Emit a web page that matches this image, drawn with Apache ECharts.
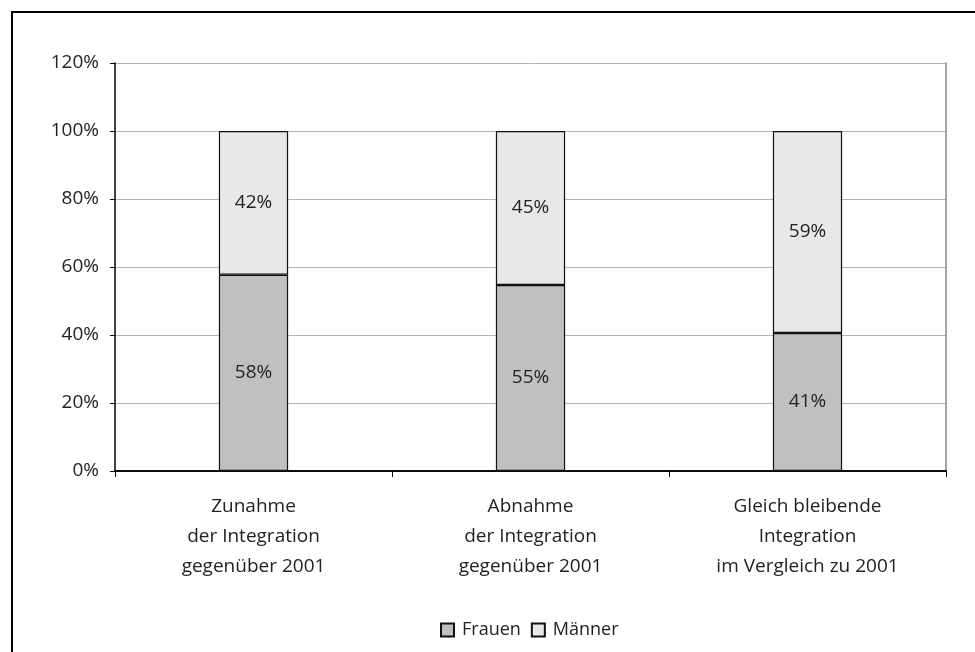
<!DOCTYPE html>
<html>
<head>
<meta charset="utf-8">
<script src="https://cdn.jsdelivr.net/npm/echarts@6/dist/echarts.min.js"></script>
<style>
  html, body { margin: 0; padding: 0; background: #fff; }
  #frame { position: absolute; left: 11px; top: 11px; width: 980px; height: 660px;
           border-left: 2px solid #000; border-top: 2px solid #000; }
  #chart { position: absolute; left: 0; top: 0; width: 975px; height: 652px; }
</style>
</head>
<body>
<div id="frame"></div>
<div id="chart"></div>
<script>
// Kategorien und Werte (Anteile in %)
var categories = [
    'Zunahme\nder Integration\ngegenüber 2001',
    'Abnahme\nder Integration\ngegenüber 2001',
    'Gleich bleibende\nIntegration\nim Vergleich zu 2001'
];
var frauen = [57.7, 54.7, 40.6];
var maenner = [42.3, 45.3, 59.4];
var yTicks = [0, 20, 40, 60, 80, 100, 120];

var fontFamily = '"Open Sans", "DejaVu Sans", sans-serif';
var textColor = '#222';

var myChart = echarts.init(document.getElementById('chart'));

var labelStyle = {
    show: true,
    position: 'inside',
    fontFamily: fontFamily,
    fontSize: 19,
    color: textColor,
    formatter: function (p) { return Math.round(p.value) + '%'; }
};

var option = {
    animation: false,
    textStyle: { fontFamily: fontFamily },
    grid: { left: 115, right: 29, top: 63, bottom: 181 },
    legend: {
        bottom: 8,
        left: 435,
        icon: 'rect',
        itemWidth: 13,
        itemHeight: 13,
        itemGap: 10,
        textStyle: { fontFamily: fontFamily, fontSize: 18, color: textColor, padding: [0, 0, 0, 3] },
        data: ['Frauen', 'Männer']
    },
    xAxis: [
        {
            type: 'category',
            data: categories,
            axisLine: { lineStyle: { color: '#000', width: 1.5 } },
            axisTick: { show: true, length: 6, lineStyle: { color: '#000' } },
            axisLabel: {
                interval: 0,
                margin: 21,
                fontFamily: fontFamily,
                fontSize: 19,
                lineHeight: 30,
                color: textColor
            }
        },
        {
            type: 'category',
            position: 'top',
            data: categories,
            axisLine: { show: true, lineStyle: { color: '#000', width: 1.5 } },
            axisTick: { show: false },
            axisLabel: { show: false }
        }
    ],
    yAxis: [
        {
            type: 'value',
            min: 0,
            max: 120,
            interval: 20,
            axisLine: { show: true, lineStyle: { color: '#000', width: 1.5 } },
            axisTick: { show: true, length: 5, lineStyle: { color: '#000' } },
            axisLabel: {
                margin: 16,
                fontFamily: fontFamily,
                fontSize: 19,
                color: textColor,
                formatter: function (v) { return yTicks.indexOf(v) >= 0 ? v + '%' : ''; }
            },
            splitLine: { show: true, lineStyle: { color: '#b4b4b4', width: 1 } }
        },
        {
            type: 'value',
            position: 'right',
            min: 0,
            max: 120,
            interval: 20,
            axisLine: { show: true, lineStyle: { color: '#888', width: 1.5 } },
            axisTick: { show: false },
            axisLabel: { show: false },
            splitLine: { show: false }
        }
    ],
    series: [
        {
            name: 'Frauen',
            type: 'bar',
            stack: 'gesamt',
            barWidth: '25%',
            data: frauen,
            itemStyle: { color: '#c0c0c0', borderColor: '#111', borderWidth: 1.2 },
            label: labelStyle
        },
        {
            name: 'Männer',
            type: 'bar',
            stack: 'gesamt',
            barWidth: '25%',
            data: maenner,
            itemStyle: { color: '#e8e8e8', borderColor: '#111', borderWidth: 1.2 },
            label: labelStyle
        }
    ]
};

myChart.setOption(option);
</script>
</body>
</html>
